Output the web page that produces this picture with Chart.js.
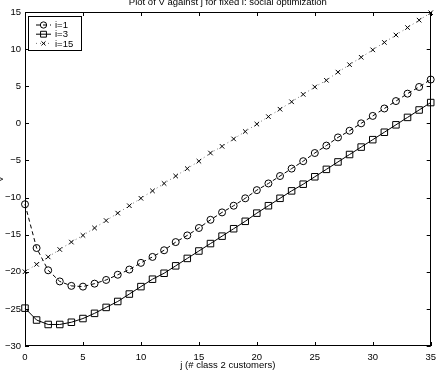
<!DOCTYPE html>
<html>
<head>
<meta charset="utf-8">
<script src="https://cdn.jsdelivr.net/npm/chart.js@4/dist/chart.umd.min.js"></script>
<style>
  html, body { margin: 0; padding: 0; background: #fff; }
  canvas { display: block; }
</style>
</head>
<body>
<canvas id="chart" width="442" height="371"></canvas>
<script>
// values
const J = [0, 1, 2, 3, 4, 5, 6, 7, 8, 9, 10, 11, 12, 13, 14, 15, 16, 17,
           18, 19, 20, 21, 22, 23, 24, 25, 26, 27, 28, 29, 30, 31, 32, 33, 34, 35];
const V_I1 = [-10.9, -16.8, -19.8, -21.3, -21.9, -22.0, -21.6, -21.1, -20.4, -19.7, -18.8, -18.0,
              -17.1, -16.0, -15.1, -14.1, -13.0, -12.0, -11.1, -10.1, -9.0, -8.1, -7.1, -6.1,
              -5.1, -4.0, -3.0, -1.9, -1.0, 0.0, 1.0, 2.0, 3.0, 4.0, 4.9, 5.9];
const V_I3 = [-24.9, -26.5, -27.1, -27.1, -26.8, -26.3, -25.6, -24.8, -24.0, -23.0, -22.0, -21.0,
              -20.2, -19.2, -18.2, -17.2, -16.2, -15.2, -14.2, -13.2, -12.1, -11.1, -10.1, -9.1,
              -8.2, -7.2, -6.2, -5.2, -4.2, -3.2, -2.2, -1.2, -0.2, 0.8, 1.8, 2.8];
const V_I15 = [-20.0, -19.0, -18.0, -17.0, -16.0, -15.1, -14.1, -13.1, -12.1, -11.1, -10.1, -9.1,
               -8.1, -7.1, -6.1, -5.1, -4.0, -3.1, -2.1, -1.1, -0.1, 0.9, 1.9, 2.9,
               3.9, 4.9, 5.8, 6.9, 7.9, 8.9, 9.9, 10.9, 11.9, 12.9, 13.9, 14.9];
const SERIES_LABELS = ['i=1', 'i=3', 'i=15'];
const X_TICKS = [0, 5, 10, 15, 20, 25, 30, 35];
const Y_TICKS = [-30, -25, -20, -15, -10, -5, 0, 5, 10, 15];
const TITLE = 'Plot of V against j for fixed i: social optimization';
const X_LABEL = 'j (# class 2 customers)';
const Y_LABEL = 'V';

const FONT = '"Liberation Sans", Arial, Helvetica, sans-serif';
const FS = 9.5;

function pts(vals){ return J.map((j, k) => ({x: j, y: vals[k]})); }
const minus = v => String(v).replace('-', '\u2212');

// frame with inward ticks (matlab style), plus title / axis labels
const framePlugin = {
  id: 'frame',
  afterDatasetsDraw(chart){
    const {ctx, chartArea: a, scales: {x, y}} = chart;
    ctx.save();
    ctx.strokeStyle = '#000';
    ctx.lineWidth = 1;
    ctx.strokeRect(Math.round(a.left) + 0.5, Math.round(a.top) + 0.5,
                   Math.round(a.right - a.left) - 1, Math.round(a.bottom - a.top) - 1);
    ctx.beginPath();
    const T = 4;
    X_TICKS.forEach(v => {
      const px = Math.round(x.getPixelForValue(v)) + 0.5;
      ctx.moveTo(px, a.bottom); ctx.lineTo(px, a.bottom - T);
      ctx.moveTo(px, a.top); ctx.lineTo(px, a.top + T);
    });
    Y_TICKS.forEach(v => {
      const py = Math.round(y.getPixelForValue(v)) + 0.5;
      ctx.moveTo(a.left, py); ctx.lineTo(a.left + T, py);
      ctx.moveTo(a.right, py); ctx.lineTo(a.right - T, py);
    });
    ctx.stroke();

    ctx.fillStyle = '#000';
    ctx.font = FS + 'px ' + FONT;
    ctx.textAlign = 'center';
    ctx.textBaseline = 'alphabetic';
    const cx = (a.left + a.right) / 2;
    ctx.fillText(TITLE, cx, 4.5);
    ctx.fillText(X_LABEL, cx, 367.5);
    ctx.translate(2.5, (a.top + a.bottom) / 2);
    ctx.rotate(-Math.PI / 2);
    ctx.fillText(Y_LABEL, 0, 0);
    ctx.restore();
  }
};

// boxed legend in the upper left corner, drawn from the dataset styles
const legendPlugin = {
  id: 'boxLegend',
  afterDraw(chart){
    const ctx = chart.ctx;
    const bx = 28.5, by = 16.5, bw = 53, bh = 34;
    ctx.save();
    ctx.fillStyle = '#fff';
    ctx.fillRect(bx, by, bw, bh);
    ctx.strokeStyle = '#000';
    ctx.lineWidth = 1;
    ctx.strokeRect(bx, by, bw, bh);
    chart.data.datasets.forEach((ds, k) => {
      const ry = 25 + k * 9.2;
      ctx.save();
      ctx.strokeStyle = ds.borderColor;
      ctx.lineWidth = ds.borderWidth;
      ctx.setLineDash(ds.borderDash || []);
      ctx.beginPath();
      ctx.moveTo(36, ry); ctx.lineTo(51, ry);
      ctx.stroke();
      ctx.restore();
      ctx.strokeStyle = '#000';
      ctx.fillStyle = 'rgba(0,0,0,0)';
      ctx.lineWidth = 1;
      Chart.helpers.drawPoint(ctx, {pointStyle: ds.pointStyle, radius: ds.pointRadius * 0.9, rotation: 0, borderWidth: 1}, 43.5, ry);
      ctx.fillStyle = '#000';
      ctx.font = FS + 'px ' + FONT;
      ctx.textAlign = 'left';
      ctx.textBaseline = 'middle';
      ctx.fillText(ds.label, 55, ry + 0.5);
    });
    ctx.restore();
  }
};

const common = {
  fill: false, clip: false, tension: 0,
  pointBackgroundColor: 'rgba(0,0,0,0)', pointBorderColor: '#000', pointBorderWidth: 1
};

new Chart(document.getElementById('chart'), {
  type: 'line',
  data: {
    datasets: [
      Object.assign({}, common, {label: SERIES_LABELS[0], data: pts(V_I1), borderColor: '#000', borderWidth: 1,
        borderDash: [4, 3], pointStyle: 'circle', pointRadius: 3.5}),
      Object.assign({}, common, {label: SERIES_LABELS[1], data: pts(V_I3), borderColor: '#000', borderWidth: 1,
        pointStyle: 'rect', pointRadius: 4.6}),
      Object.assign({}, common, {label: SERIES_LABELS[2], data: pts(V_I15), borderColor: '#777', borderWidth: 1,
        borderDash: [1, 3], pointStyle: 'crossRot', pointRadius: 3.2})
    ]
  },
  options: {
    responsive: false,
    animation: false,
    devicePixelRatio: 1,
    layout: {padding: {top: 12, right: 6, left: 0, bottom: 0}},
    plugins: {legend: {display: false}, tooltip: {enabled: false}, title: {display: false}},
    scales: {
      x: {
        type: 'linear', min: 0, max: 35,
        grid: {display: false, drawTicks: false}, border: {display: false},
        afterFit: s => { s.height = 25; },
        afterBuildTicks: s => { s.ticks = X_TICKS.map(v => ({value: v})); },
        ticks: {autoSkip: false, maxRotation: 0, padding: 6, color: '#000',
                font: {family: FONT, size: FS}, callback: v => minus(v)}
      },
      y: {
        type: 'linear', min: -30, max: 15,
        grid: {display: false, drawTicks: false}, border: {display: false},
        afterFit: s => { s.width = 25; },
        afterBuildTicks: s => { s.ticks = Y_TICKS.map(v => ({value: v})); },
        ticks: {autoSkip: false, padding: 4, color: '#000',
                font: {family: FONT, size: FS}, callback: v => minus(v)}
      }
    }
  },
  plugins: [framePlugin, legendPlugin]
});
</script>
</body>
</html>
